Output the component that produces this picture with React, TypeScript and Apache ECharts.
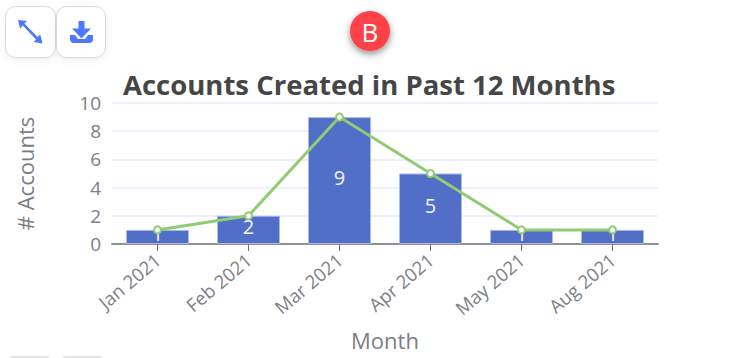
import React, { useEffect, useRef } from "react";
import * as echarts from "echarts";

const categories = ["Jan 2021", "Feb 2021", "Mar 2021", "Apr 2021", "May 2021", "Aug 2021"];
const barValues = [1, 2, 9, 5, 1, 1];
const lineValues = [1, 2, 9, 5, 1, 1];
const titleText = "Accounts Created in Past 12 Months";
const xName = "Month";
const yName = "# Accounts";
const FONT = "'Open Sans', sans-serif";

echarts.graphic.registerShape(
  "expandIcon",
  echarts.graphic.extendPath(
    "M18 20 L27 21 L24.4 23.6 L37.6 37 L40.2 34.4 L42.5 43.5 L33.5 42 L36 39.4 L22.8 25.4 L20 28.5 Z",
    {}
  )
);
echarts.graphic.registerShape(
  "downloadIcon",
  echarts.graphic.extendPath(
    "M78.5 21 L84.5 21 L84.5 28.5 L91 28.5 L81.5 38.5 L72 28.5 L78.5 28.5 Z M70 35 L75 35 L78 39 L85 39 L88 35 L93 35 L93 39 Q93 43 89 43 L74 43 Q70 43 70 39 Z",
    {}
  )
);

export default function App() {
  const ref = useRef<HTMLDivElement>(null);
  useEffect(() => {
    const chart = echarts.init(ref.current!, null, { renderer: "svg" });
    chart.setOption({
      animation: false,
      backgroundColor: "#ffffff",
      textStyle: { fontFamily: FONT },
      title: {
        text: titleText,
        left: 123,
        top: 70,
        padding: 0,
        textStyle: { fontFamily: FONT, fontSize: 27.5, fontWeight: "bold", color: "#464646" },
      },
      grid: { left: 112, right: 82, top: 103, bottom: 114, containLabel: false },
      xAxis: {
        type: "category",
        data: categories,
        name: xName,
        nameLocation: "middle",
        nameGap: 85,
        nameTextStyle: { fontFamily: FONT, fontSize: 22, color: "#7c7e86" },
        axisLine: { lineStyle: { color: "#8f8f97", width: 2 } },
        axisTick: { show: true, alignWithLabel: true, length: 7, lineStyle: { color: "#6e7079" } },
        axisLabel: { rotate: 40, fontFamily: FONT, fontSize: 18.5, color: "#7c7e86", margin: 13 },
      },
      yAxis: {
        type: "value",
        min: 0,
        max: 10,
        interval: 2,
        name: yName,
        nameLocation: "middle",
        nameGap: 76,
        nameTextStyle: { fontFamily: FONT, fontSize: 22, color: "#7c7e86" },
        axisLine: { show: false },
        axisTick: { show: false },
        axisLabel: { fontFamily: FONT, fontSize: 19, color: "#7c7e86", margin: 11, padding: [0, 0, 6, 0] },
        splitLine: { lineStyle: { color: "#e6ebf8", width: 1.5 } },
      },
      series: [
        {
          type: "bar",
          data: barValues,
          barWidth: 63,
          itemStyle: { color: "#516fc7", borderColor: "#a9b9e8", borderWidth: 1 },
          label: { show: true, position: "inside", offset: [0, -3], color: "#f2f4fb", fontFamily: FONT, fontSize: 20 },
        },
        {
          type: "line",
          data: lineValues,
          symbol: "circle",
          symbolSize: 7,
          itemStyle: { color: "#ffffff", borderColor: "#91cc75", borderWidth: 2 },
          lineStyle: { color: "#91cc75", width: 3 },
        },
      ],
      graphic: [
        { type: "rect", shape: { x: 5.5, y: 6.5, width: 50, height: 51, r: 10 }, style: { fill: "#fff", stroke: "#d9d9d9", lineWidth: 1, shadowBlur: 6, shadowColor: "rgba(0,0,0,0.06)", shadowOffsetY: 3 } },
        { type: "rect", shape: { x: 56.5, y: 6.5, width: 49, height: 51, r: 10 }, style: { fill: "#fff", stroke: "#d9d9d9", lineWidth: 1, shadowBlur: 6, shadowColor: "rgba(0,0,0,0.06)", shadowOffsetY: 3 } },
        { type: "expandIcon", style: { fill: "#4d79ff" } },
        { type: "downloadIcon", style: { fill: "#4d79ff" } },
        { type: "circle", shape: { cx: 370, cy: 31, r: 20 }, style: { fill: "#ff4248", shadowBlur: 7, shadowColor: "rgba(0,0,0,0.45)", shadowOffsetY: 3 } },
        { type: "text", x: 370, y: 32, style: { text: "B", fill: "#fff", font: "26px 'Open Sans', sans-serif", align: "center", verticalAlign: "middle" } },
        { type: "rect", shape: { x: 10, y: 356, width: 40, height: 6, r: 3 }, style: { fill: "#e4e4e4" } },
        { type: "rect", shape: { x: 62, y: 356, width: 40, height: 6, r: 3 }, style: { fill: "#e4e4e4" } },
      ],
    });
    return () => chart.dispose();
  }, []);
  return <div ref={ref} style={{ position: "fixed", left: 0, top: 0, width: 740, height: 358 }} />;
}
